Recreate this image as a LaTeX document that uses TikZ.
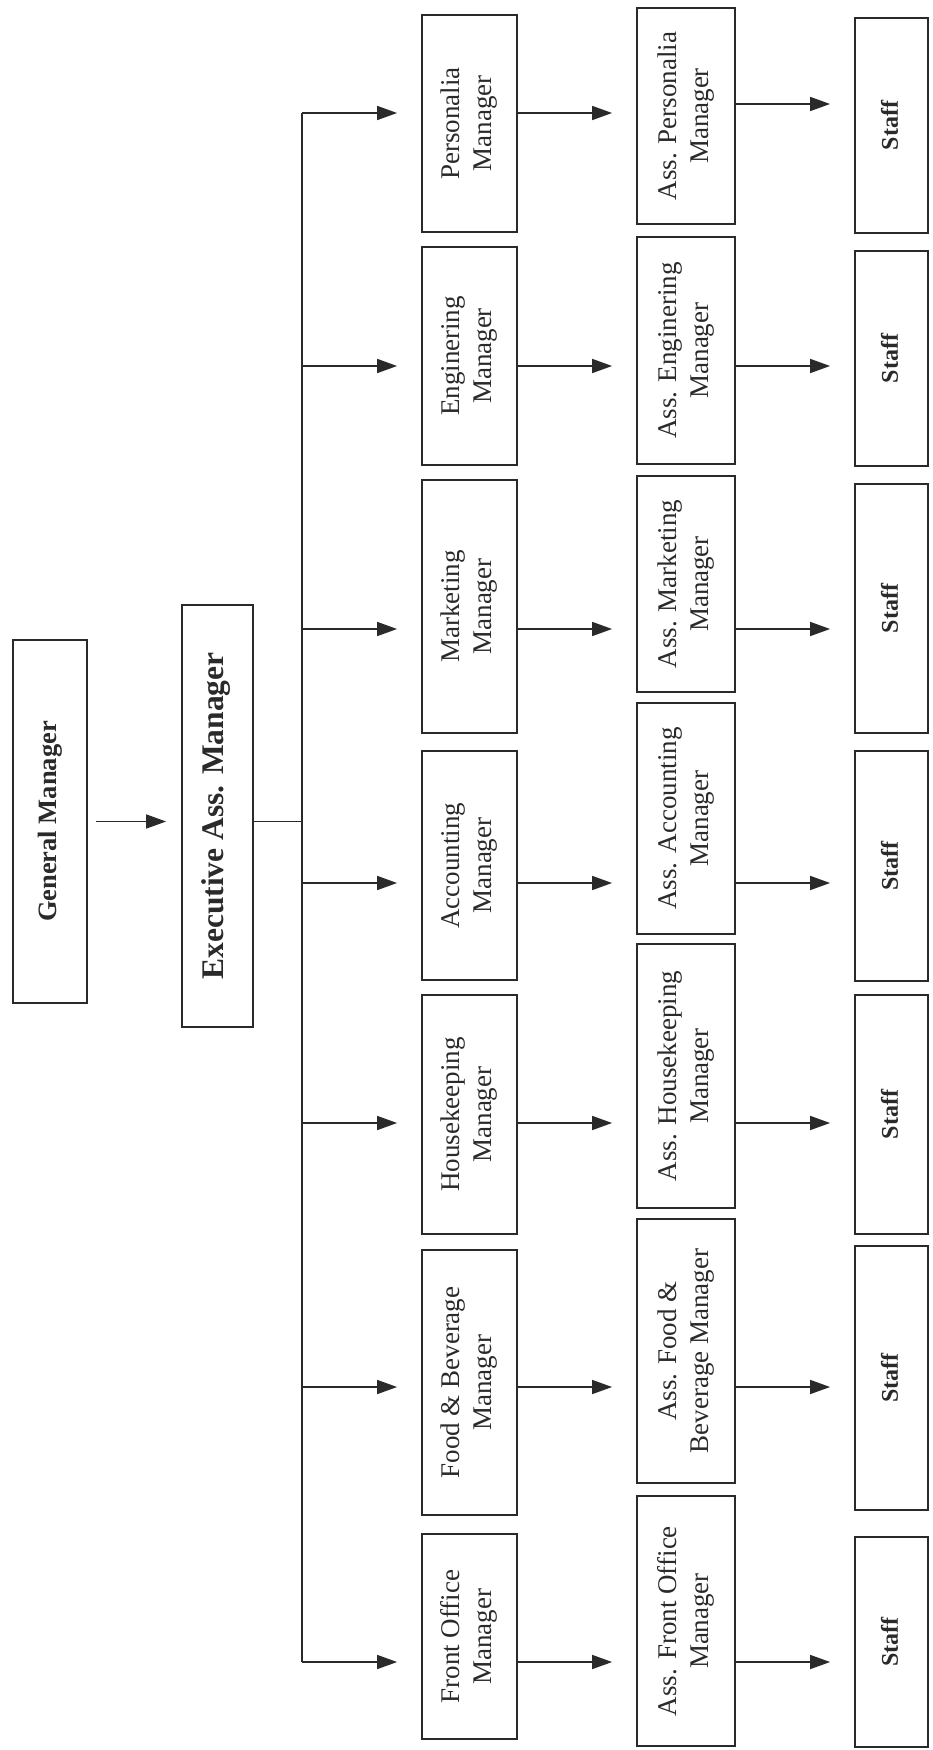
\documentclass[tikz,border=0pt]{standalone}
\usepackage{fontspec}
\setmainfont{Liberation Serif}
\usetikzlibrary{arrows.meta}
\definecolor{ink}{HTML}{2A2A2A}
\newcommand{\vtxt}[2]{\rotatebox{90}{\fontsize{#1}{32}\selectfont\begin{tabular}{@{}c@{}}#2\end{tabular}}}
\tikzset{
  box/.style={draw=ink, line width=1.8pt, inner sep=0pt, text=ink, fill=white},
  mgr/.style={box, minimum width=95pt},
  ass/.style={box, minimum width=98pt},
  stf/.style={box, minimum width=73pt},
  conn/.style={draw=ink, line width=1.6pt},
  arr/.style={conn, -{Triangle[length=20pt,width=14pt]}, shorten >=24pt},
}
\begin{document}
\begin{tikzpicture}[x=1pt,y=-1pt]
\useasboundingbox (0,0) rectangle (932,1750);
\fill[white] (0,0) rectangle (932,1750);

% top levels
\node[box, minimum width=74pt, minimum height=363pt] (gm) at (50,821.5)
  {\vtxt{26.5}{\bfseries General Manager}};
\node[box, minimum width=71pt, minimum height=422pt] (eam) at (217.5,816)
  {\vtxt{31.5}{\bfseries Executive Ass. Manager}};

% managers
\node[mgr, minimum height=217pt] (m1) at (469.5,123.5) {\vtxt{27}{Personalia\\Manager}};
\node[mgr, minimum height=218pt] (m2) at (469.5,356)   {\vtxt{27}{Enginering\\Manager}};
\node[mgr, minimum height=253pt] (m3) at (469.5,606.5) {\vtxt{27}{Marketing\\Manager}};
\node[mgr, minimum height=229pt] (m4) at (469.5,865.5) {\vtxt{27}{Accounting\\Manager}};
\node[mgr, minimum height=239pt] (m5) at (469.5,1114.5){\vtxt{27}{Housekeeping\\Manager}};
\node[mgr, minimum height=265pt] (m6) at (469.5,1382.5){\vtxt{27}{Food \& Beverage\\Manager}};
\node[mgr, minimum height=205pt] (m7) at (469.5,1636.5){\vtxt{27}{Front Office\\Manager}};

% assistants
\node[ass, minimum height=216pt] (a1) at (686,116)    {\vtxt{27}{Ass. Personalia\\Manager}};
\node[ass, minimum height=227pt] (a2) at (686,350.5)  {\vtxt{27}{Ass. Enginering\\Manager}};
\node[ass, minimum height=216pt] (a3) at (686,584)    {\vtxt{27}{Ass. Marketing\\Manager}};
\node[ass, minimum height=231pt] (a4) at (686,818.5)  {\vtxt{27}{Ass. Accounting\\Manager}};
\node[ass, minimum height=264pt] (a5) at (686,1076)   {\vtxt{27}{Ass. Housekeeping\\Manager}};
\node[ass, minimum height=264pt] (a6) at (686,1351)   {\vtxt{27}{Ass. Food \&\\Beverage Manager}};
\node[ass, minimum height=250pt] (a7) at (686,1621)   {\vtxt{27}{Ass. Front Office\\Manager}};

% staff
\node[stf, minimum height=215pt] (s1) at (891.5,125.5) {\vtxt{24}{\bfseries Staff}};
\node[stf, minimum height=215pt] (s2) at (891.5,358.5) {\vtxt{24}{\bfseries Staff}};
\node[stf, minimum height=249pt] (s3) at (891.5,608.5) {\vtxt{24}{\bfseries Staff}};
\node[stf, minimum height=230pt] (s4) at (891.5,866)   {\vtxt{24}{\bfseries Staff}};
\node[stf, minimum height=239pt] (s5) at (891.5,1114.5){\vtxt{24}{\bfseries Staff}};
\node[stf, minimum height=264pt] (s6) at (891.5,1378)  {\vtxt{24}{\bfseries Staff}};
\node[stf, minimum height=210pt] (s7) at (891.5,1642)  {\vtxt{24}{\bfseries Staff}};

% bus coordinates (one per row)
\coordinate (b1) at (302,113);
\coordinate (b2) at (302,366);
\coordinate (b3) at (302,629);
\coordinate (b4) at (302,883);
\coordinate (b5) at (302,1123);
\coordinate (b6) at (302,1387);
\coordinate (b7) at (302,1662);
\coordinate (b0) at (302,821.5);

% GM -> EAM
\draw[arr, shorten <=8pt, shorten >=15pt] (gm.east) -- (eam.west |- gm.east);
% EAM -> bus
\draw[conn] (eam.east |- b0) -- (b0);
\draw[conn] (b1) -- (b7);

% bus -> managers
\foreach \i in {1,...,7} {
  \draw[arr] (b\i) -- (m\i.west |- b\i);
}
% managers -> assistants
\foreach \i in {1,...,7} {
  \draw[arr] (m\i.east |- b\i) -- (a\i.west |- b\i);
}
% assistants -> staff
\coordinate (t1) at (0,104);
\draw[arr] (a1.east |- t1) -- (s1.west |- t1);
\foreach \i in {2,...,7} {
  \draw[arr] (a\i.east |- b\i) -- (s\i.west |- b\i);
}
\end{tikzpicture}
\end{document}
